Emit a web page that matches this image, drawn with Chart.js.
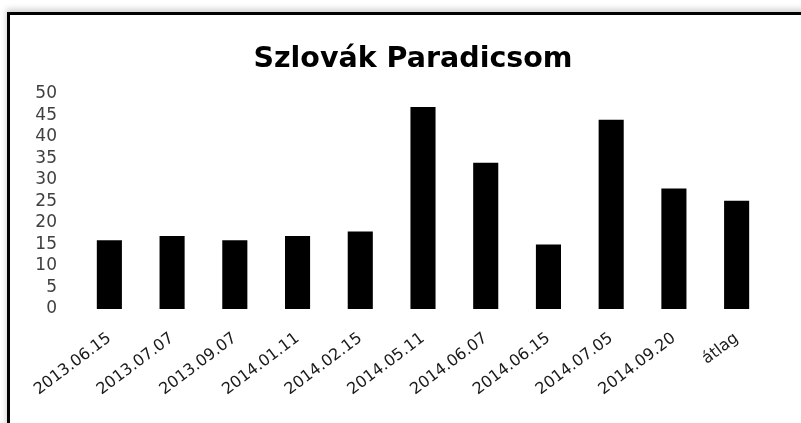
<!DOCTYPE html>
<html>
<head>
<meta charset="utf-8">
<script src="https://cdn.jsdelivr.net/npm/chart.js@4"></script>
<style>
  html, body { margin: 0; padding: 0; background: #fff; }
  body { width: 801px; height: 423px; position: relative; overflow: hidden; }
  #frame { position: absolute; left: 7px; top: 12px; width: 900px; height: 500px;
           border-left: 3px solid #000; border-top: 3px solid #000;
           box-shadow: -1px -3px 6px rgba(0,0,0,0.18); background: #fff; }
  #wrap { position: absolute; left: 0; top: 0; width: 801px; height: 423px; }
</style>
</head>
<body>
<div id="frame"></div>
<div id="wrap"><canvas id="c" width="801" height="423"></canvas></div>
<script>
const chartTitle = 'Szlovák Paradicsom';
const categories = ['2013.06.15','2013.07.07','2013.09.07','2014.01.11','2014.02.15','2014.05.11','2014.06.07','2014.06.15','2014.07.05','2014.09.20','átlag'];
const values = [16, 17, 16, 17, 18, 47, 34, 15, 44, 28, 25.2];
const yMin = 0, yMax = 50, yStep = 5;

// nudges the centred title to the right, as in the reference
const titleShift = {
  id: 'titleShift',
  afterLayout(chart) {
    const t = chart.titleBlock;
    if (t) { t.left += 12; t.right += 12; }
  }
};

new Chart(document.getElementById('c'), {
  type: 'bar',
  data: {
    labels: categories,
    datasets: [{
      data: values,
      backgroundColor: '#000',
      borderWidth: 0,
      categoryPercentage: 1,
      barPercentage: 0.4
    }]
  },
  plugins: [titleShift],
  options: {
    responsive: false,
    animation: false,
    devicePixelRatio: 1,
    layout: { padding: { left: 34, right: 33, top: 0, bottom: 0 } },
    plugins: {
      legend: { display: false },
      tooltip: { enabled: false },
      title: {
        display: true,
        text: chartTitle,
        color: '#000',
        font: { family: 'DejaVu Sans', size: 28.5, weight: 'bold', lineHeight: 1.2 },
        padding: { top: 42, bottom: 17.8 }
      }
    },
    scales: {
      x: {
        grid: { display: false, drawTicks: false },
        border: { display: false },
        ticks: {
          color: '#1a1a1a',
          font: { family: 'DejaVu Sans', size: 16 },
          minRotation: 37, maxRotation: 37,
          padding: 20,
          autoSkip: false
        },
        afterFit: s => { s.height = 114; s.paddingLeft = 0; s.paddingRight = 0; }
      },
      y: {
        min: yMin, max: yMax,
        grid: { display: false, drawTicks: false },
        border: { display: false },
        ticks: {
          stepSize: yStep,
          autoSkip: false,
          color: '#404040',
          font: { family: 'DejaVu Sans', size: 17 },
          padding: 21
        },
        afterFit: s => { s.width = 44; }
      }
    }
  }
});
</script>
</body>
</html>
